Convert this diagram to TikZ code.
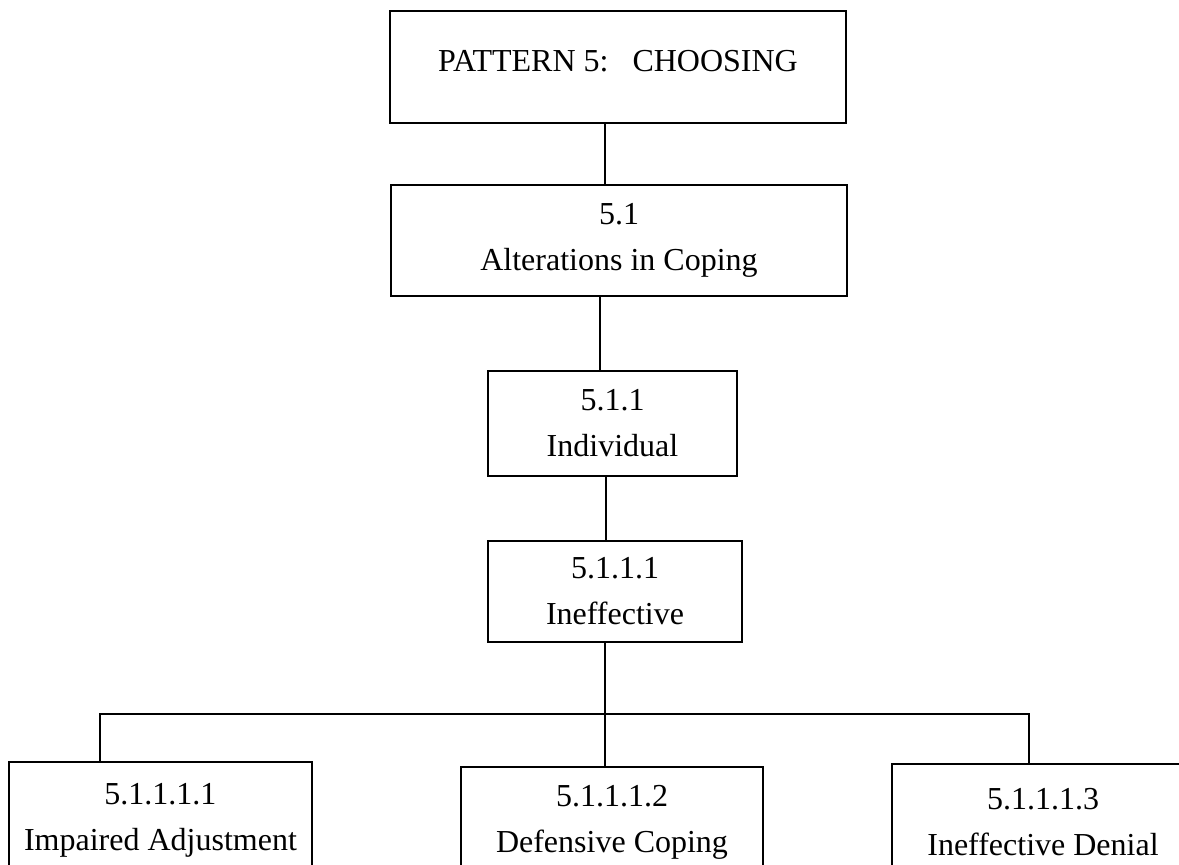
\documentclass[tikz,border=0pt]{standalone}
\usepackage{fontspec}
\setmainfont{Liberation Serif}

\begin{document}
\begin{tikzpicture}[
    x=0.5pt, y=-0.5pt,
    box/.style={draw=black, line width=1.2pt, align=center, inner sep=0pt,
        font=\fontsize{16}{23}\selectfont, minimum width=#1},
    link/.style={line width=1.2pt}
]
    \useasboundingbox (0,0) rectangle (1179,865);
    \clip (0,0) rectangle (1179,865);

    % Upper chain
    \node[box=228pt, minimum height=56pt, text depth=6pt] (pat) at (618,67) {PATTERN 5:\ \ \ CHOOSING};
    \node[box=228pt, minimum height=55.5pt] (alt) at (619,240.5) {5.1\\Alterations in Coping};
    \node[box=124.5pt, minimum height=52.5pt] (indiv) at (612.5,423.5) {5.1.1\\Individual};
    \node[box=127pt, minimum height=50.5pt] (ineff) at (615,591.5) {5.1.1.1\\Ineffective};

    % Lower row (cut off by the page edge)
    \node[box=151.5pt, minimum height=58pt] (imp) at (160.5,820) {5.1.1.1.1\\Impaired Adjustment};
    \node[box=151pt, minimum height=55pt] (def) at (612,822) {5.1.1.1.2\\Defensive Coping};
    \node[box=151pt, minimum height=58pt] (den) at (1043,822) {5.1.1.1.3\\Ineffective Denial};

    % Connectors
    \coordinate (j1) at ([xshift=-6.5pt]pat.south);
    \coordinate (j2) at ([xshift=-9.5pt]alt.south);
    \coordinate (j3) at ([xshift=-3.25pt]indiv.south);
    \coordinate (j4) at ([xshift=-5pt]ineff.south);
    \coordinate (dropL) at ([xshift=-30.25pt]imp.north);
    \coordinate (dropR) at ([xshift=-7pt]den.north);

    \draw[link] (j1) -- (j1 |- alt.north);
    \draw[link] (j2) -- (j2 |- indiv.north);
    \draw[link] (j3) -- (j3 |- ineff.north);
    \draw[link] (j4) -- (j4 |- def.north);
    \draw[link] (dropL) -- ++(0,-47) -| (dropR);
\end{tikzpicture}
\end{document}
